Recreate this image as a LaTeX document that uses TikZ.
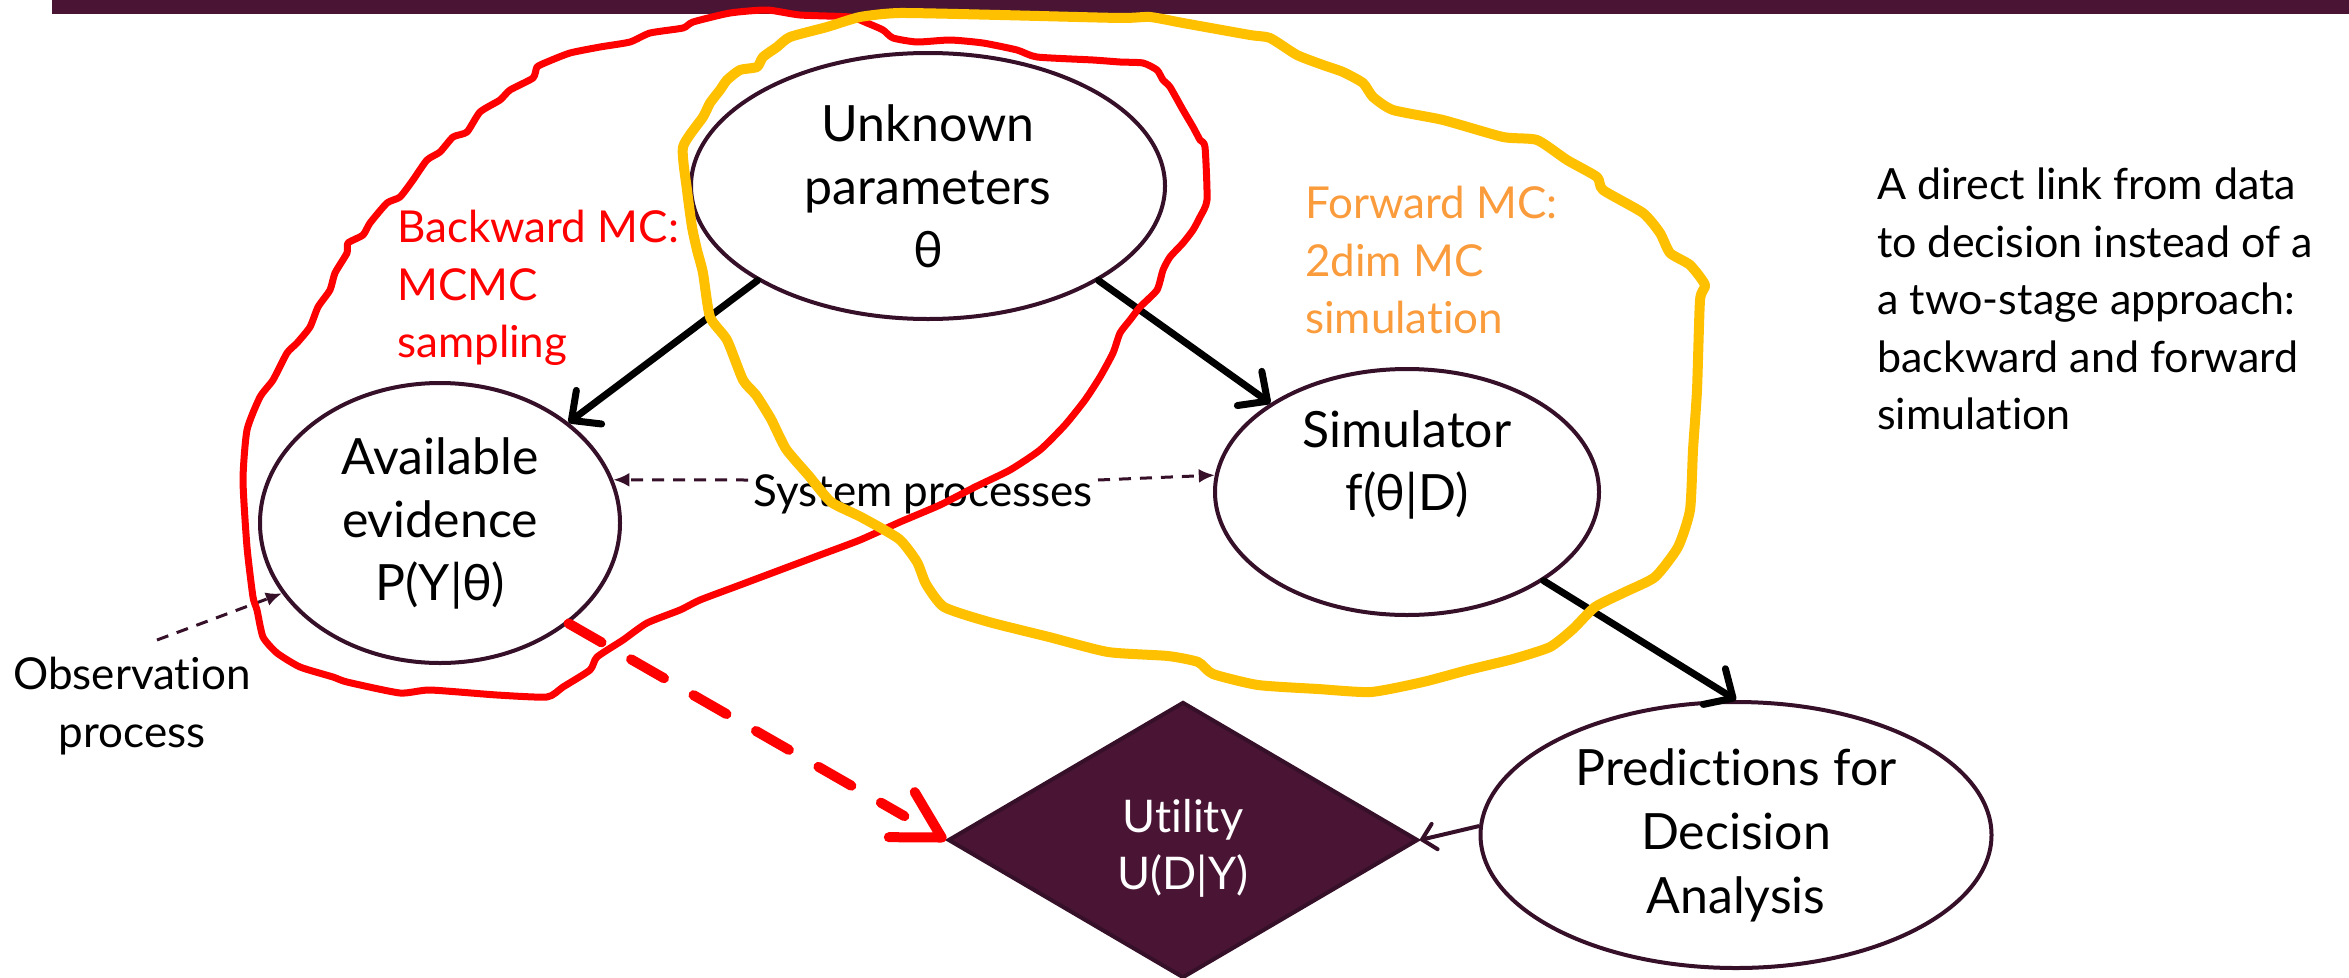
\documentclass[tikz,border=0pt]{standalone}
\usepackage{fontspec}
\setmainfont{Lato}[Ligatures={NoCommon,NoRequired,NoContextual}]
\usetikzlibrary{arrows.meta,shapes.geometric,calc}

\definecolor{plum}{RGB}{74,21,53}
\definecolor{edgeplum}{RGB}{54,16,40}
\definecolor{loopred}{RGB}{255,0,0}
\definecolor{loopgold}{RGB}{255,192,0}
\definecolor{fwdorange}{RGB}{250,155,60}

\tikzset{
  ell/.style={ellipse, draw=edgeplum, line width=4pt, fill=white, inner sep=-45pt,
    align=center, font=\fontsize{50}{63}\selectfont},
  utilbox/.style={diamond, draw=edgeplum, line width=4pt, fill=plum, inner sep=0pt},
  utiltext/.style={text=white, align=center, inner sep=0pt, font=\fontsize{45}{57}\selectfont},
  plain/.style={inner sep=0pt, font=\fontsize{44}{57.5}\selectfont},
  causal/.style={line width=7pt, black, line cap=round,
    -{Straight Barb[length=22pt,width=42pt,round]}},
  direct/.style={line width=10pt, loopred, line cap=round, dash pattern=on 38pt off 34pt},
  directtip/.style={line width=10pt, loopred, line cap=round,
    -{Straight Barb[length=46pt,width=52pt,round]}},
  feed/.style={line width=4pt, edgeplum, -{Straight Barb[length=13pt,width=26pt,round]}},
  process/.style={line width=3pt, edgeplum, dash pattern=on 12pt off 9pt,
    -{Latex[length=16pt,width=14pt]}},
  backloop/.style={line width=7pt, loopred, line join=round},
  fwdloop/.style={line width=10pt, loopgold, line join=round},
}

\begin{document}
\begin{tikzpicture}[x=1pt,y=-1pt]
\useasboundingbox (0,0) rectangle (2349,977);

% title band
\fill[plum] (52,0) rectangle (2349,14);

% nodes
\node[ell, minimum width=474pt, minimum height=266pt] (unk) at (928,186)
  {Unknown\\parameters\\θ};
\node[ell, minimum width=360pt, minimum height=280pt] (avail) at (440,523)
  {Available\\evidence\\P(Y|θ)};
\node[ell, minimum width=384pt, minimum height=246pt] (sim) at (1407,492)
  {Simulator\\f(θ|D)\\\mbox{}};
\node[ell, minimum width=511pt, minimum height=266pt,
  font=\fontsize{50}{64}\selectfont] (pred) at (1736,835)
  {Predictions for\\Decision\\Analysis};
\node[utilbox, minimum width=470pt, minimum height=276pt] (util) at (1183,840) {};
\node[utiltext] (utilt) at (1183,848) {Utility\\U(D|Y)};

% free-standing labels
\node[plain, text=loopred, align=left, anchor=north west] (back) at (397,210)
  {Backward MC:\\MCMC\\sampling};
\node[plain, text=fwdorange, align=left, anchor=north west] (fwd) at (1305,186)
  {Forward MC:\\2dim MC\\simulation};
\node[plain, align=left, anchor=north west, font=\fontsize{43}{57.5}\selectfont] (note)
  at (1877,168)
  {A direct link from data\\to decision instead of a\\a two-stage approach:\\backward and forward\\simulation};
\node[plain, align=center, anchor=north] (obs) at (132,657) {Observation\\process};
\node[plain, anchor=base] (sys) at (923,506) {System processes};

% dashed process links
\coordinate (sysL) at (748,480);
\coordinate (sysR) at (1098,480);
\coordinate (obsT) at (157,640);
\draw[process] (sysL) -- (avail.14);
\draw[process] (sysR) -- (sim.175);
\draw[process] (obsT) -- (avail.204);

% causal arrows
\draw[causal] (unk.209) -- (avail.38);
\draw[causal] (unk.331) -- (sim.147);
\draw[causal] (sim.327) -- (pred.north);
\draw[feed] (pred.178) -- (util.east);

% direct data-to-decision link (dashed shaft, solid head)
\draw[direct] (avail.322) -- ($(util.west)!48pt!(avail.322)$);
\draw[directtip] ($(util.west)!6pt!(avail.322)$) -- (util.west);

% backward (MCMC) loop
\draw[backloop] plot[smooth cycle, tension=0.35] coordinates {
  (400,693) (347,682) (333,677) (300,667) (277,653) (263,637) (257,610)
  (253,597) (247,547) (243,480) (247,430) (260,397) (273,380) (287,353)
  (297,343) (310,327) (318,307) (330,290) (335,273) (347,253) (348,243)
  (363,235) (370,223) (387,203) (400,197) (413,180) (427,160) (440,152)
  (453,137) (467,132) (480,112) (500,100) (510,90) (533,78) (537,67)
  (547,62) (570,53) (600,47) (630,42) (650,33) (683,28) (693,22) (730,13)
  (767,10) (800,15) (850,17) (867,23) (883,30) (893,38) (917,42) (950,40)
  (983,43) (1017,50) (1037,57) (1093,60) (1120,62) (1143,63) (1157,70)
  (1163,80) (1170,87) (1183,110) (1193,127)
  (1200,140) (1205,147) (1207,200) (1200,217) (1193,230) (1183,243)
  (1170,257) (1163,270) (1157,290) (1140,307) (1130,320) (1120,333)
  (1113,353) (1100,377) (1085,400) (1065,425) (1040,450) (1010,470)
  (975,487) (940,505) (900,522) (860,540) (820,555) (780,570) (740,585)
  (700,600) (680,610) (647,623) (623,640) (597,657) (590,670) (563,687)
  (547,697) (497,695) (430,690)
};

% forward (2-dim MC) loop
\draw[fwdloop] plot[smooth cycle, tension=0.35] coordinates {
  (683,147) (687,190) (692,227) (697,250) (703,273) (710,317) (727,340)
  (743,380) (756,395) (771,419) (786,449) (809,476) (831,502) (861,517)
  (899,539) (917,562) (926,584) (944,607) (989,622) (1049,637) (1108,652)
  (1168,656) (1198,662) (1213,674) (1258,685) (1318,689) (1371,692)
  (1423,682) (1468,670) (1513,659) (1550,647) (1573,629) (1595,607)
  (1625,592) (1655,577) (1678,547) (1690,510) (1693,450) (1697,390)
  (1700,300) (1705,285) (1690,265) (1670,253) (1660,233) (1643,213)
  (1603,190) (1597,177) (1567,160) (1537,140) (1503,137) (1443,120)
  (1393,110) (1373,97) (1363,83) (1343,72) (1323,65) (1297,55) (1270,38)
  (1250,35) (1183,23) (1150,17) (1120,18) (1000,15) (900,13) (860,17)
  (827,27) (790,37) (777,47) (763,57) (757,67) (740,70) (727,80)
  (720,90) (710,103) (703,117)
};
\end{tikzpicture}
\end{document}
